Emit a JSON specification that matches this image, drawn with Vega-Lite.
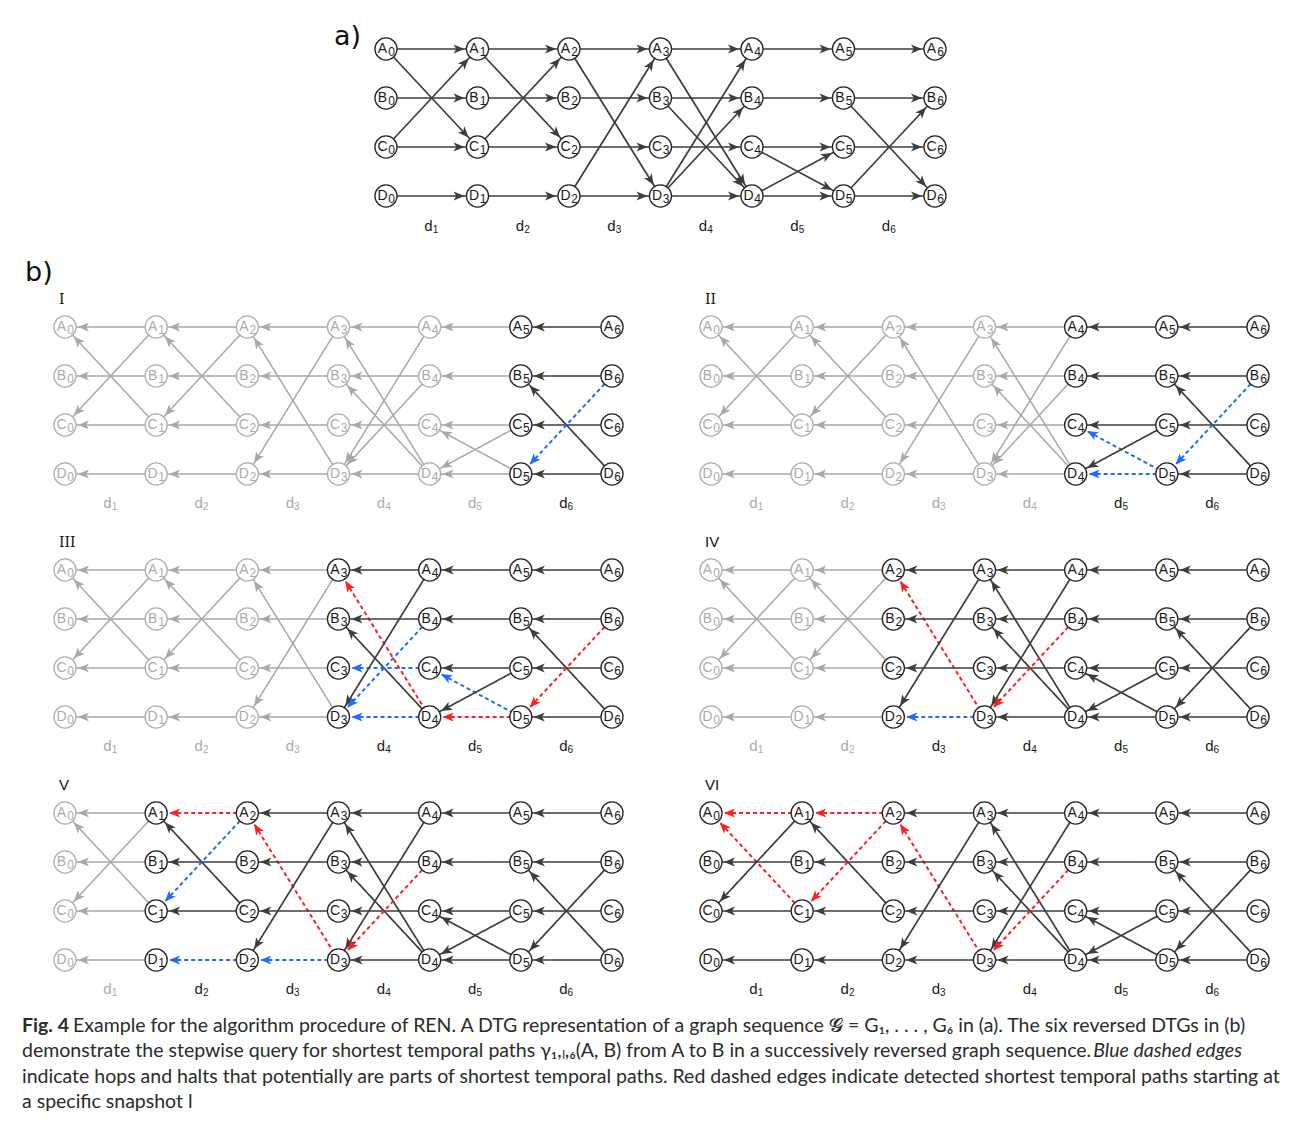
{
"$schema": "https://vega.github.io/schema/vega-lite/v6.json",
"background": "white",
"padding": {"left": 20, "top": 20, "right": 10, "bottom": 8},
"config": {"view": {"stroke": null}},
"datasets": {
"nodes": [
{"t":0,"r":"A"},{"t":0,"r":"B"},{"t":0,"r":"C"},{"t":0,"r":"D"},
{"t":1,"r":"A"},{"t":1,"r":"B"},{"t":1,"r":"C"},{"t":1,"r":"D"},
{"t":2,"r":"A"},{"t":2,"r":"B"},{"t":2,"r":"C"},{"t":2,"r":"D"},
{"t":3,"r":"A"},{"t":3,"r":"B"},{"t":3,"r":"C"},{"t":3,"r":"D"},
{"t":4,"r":"A"},{"t":4,"r":"B"},{"t":4,"r":"C"},{"t":4,"r":"D"},
{"t":5,"r":"A"},{"t":5,"r":"B"},{"t":5,"r":"C"},{"t":5,"r":"D"},
{"t":6,"r":"A"},{"t":6,"r":"B"},{"t":6,"r":"C"},{"t":6,"r":"D"}
],
"ivals": [{"t":0,"i":1},{"t":1,"i":2},{"t":2,"i":3},{"t":3,"i":4},{"t":4,"i":5},{"t":5,"i":6}],
"edges": [
{"t":0,"r":"A","t2":1,"r2":"A","I":"g","II":"g","III":"g","IV":"g","V":"g","VI":"r"},
{"t":0,"r":"A","t2":1,"r2":"C","I":"g","II":"g","III":"g","IV":"g","V":"g","VI":"r"},
{"t":0,"r":"B","t2":1,"r2":"B","I":"g","II":"g","III":"g","IV":"g","V":"g","VI":"k"},
{"t":0,"r":"C","t2":1,"r2":"A","I":"g","II":"g","III":"g","IV":"g","V":"g","VI":"k"},
{"t":0,"r":"C","t2":1,"r2":"C","I":"g","II":"g","III":"g","IV":"g","V":"g","VI":"k"},
{"t":0,"r":"D","t2":1,"r2":"D","I":"g","II":"g","III":"g","IV":"g","V":"g","VI":"k"},
{"t":1,"r":"A","t2":2,"r2":"A","I":"g","II":"g","III":"g","IV":"g","V":"r","VI":"r"},
{"t":1,"r":"A","t2":2,"r2":"C","I":"g","II":"g","III":"g","IV":"g","V":"k","VI":"k"},
{"t":1,"r":"B","t2":2,"r2":"B","I":"g","II":"g","III":"g","IV":"g","V":"k","VI":"k"},
{"t":1,"r":"C","t2":2,"r2":"A","I":"g","II":"g","III":"g","IV":"g","V":"b","VI":"r"},
{"t":1,"r":"C","t2":2,"r2":"C","I":"g","II":"g","III":"g","IV":"g","V":"k","VI":"k"},
{"t":1,"r":"D","t2":2,"r2":"D","I":"g","II":"g","III":"g","IV":"g","V":"b","VI":"k"},
{"t":2,"r":"A","t2":3,"r2":"A","I":"g","II":"g","III":"g","IV":"k","V":"k","VI":"k"},
{"t":2,"r":"A","t2":3,"r2":"D","I":"g","II":"g","III":"g","IV":"r","V":"r","VI":"r"},
{"t":2,"r":"B","t2":3,"r2":"B","I":"g","II":"g","III":"g","IV":"k","V":"k","VI":"k"},
{"t":2,"r":"C","t2":3,"r2":"C","I":"g","II":"g","III":"g","IV":"k","V":"k","VI":"k"},
{"t":2,"r":"D","t2":3,"r2":"A","I":"g","II":"g","III":"g","IV":"k","V":"k","VI":"k"},
{"t":2,"r":"D","t2":3,"r2":"D","I":"g","II":"g","III":"g","IV":"b","V":"b","VI":"k"},
{"t":3,"r":"A","t2":4,"r2":"A","I":"g","II":"g","III":"k","IV":"k","V":"k","VI":"k"},
{"t":3,"r":"A","t2":4,"r2":"D","I":"g","II":"g","III":"r","IV":"k","V":"k","VI":"k"},
{"t":3,"r":"B","t2":4,"r2":"B","I":"g","II":"g","III":"k","IV":"k","V":"k","VI":"k"},
{"t":3,"r":"B","t2":4,"r2":"D","I":"g","II":"g","III":"k","IV":"k","V":"k","VI":"k"},
{"t":3,"r":"C","t2":4,"r2":"C","I":"g","II":"g","III":"b","IV":"k","V":"k","VI":"k"},
{"t":3,"r":"D","t2":4,"r2":"A","I":"g","II":"g","III":"k","IV":"k","V":"k","VI":"k"},
{"t":3,"r":"D","t2":4,"r2":"B","I":"g","II":"g","III":"b","IV":"r","V":"r","VI":"r"},
{"t":3,"r":"D","t2":4,"r2":"D","I":"g","II":"g","III":"b","IV":"k","V":"k","VI":"k"},
{"t":4,"r":"A","t2":5,"r2":"A","I":"g","II":"k","III":"k","IV":"k","V":"k","VI":"k"},
{"t":4,"r":"B","t2":5,"r2":"B","I":"g","II":"k","III":"k","IV":"k","V":"k","VI":"k"},
{"t":4,"r":"C","t2":5,"r2":"C","I":"g","II":"k","III":"k","IV":"k","V":"k","VI":"k"},
{"t":4,"r":"C","t2":5,"r2":"D","I":"g","II":"b","III":"b","IV":"k","V":"k","VI":"k"},
{"t":4,"r":"D","t2":5,"r2":"C","I":"g","II":"k","III":"k","IV":"k","V":"k","VI":"k"},
{"t":4,"r":"D","t2":5,"r2":"D","I":"g","II":"b","III":"r","IV":"k","V":"k","VI":"k"},
{"t":5,"r":"A","t2":6,"r2":"A","I":"k","II":"k","III":"k","IV":"k","V":"k","VI":"k"},
{"t":5,"r":"B","t2":6,"r2":"B","I":"k","II":"k","III":"k","IV":"k","V":"k","VI":"k"},
{"t":5,"r":"B","t2":6,"r2":"D","I":"k","II":"k","III":"k","IV":"k","V":"k","VI":"k"},
{"t":5,"r":"C","t2":6,"r2":"C","I":"k","II":"k","III":"k","IV":"k","V":"k","VI":"k"},
{"t":5,"r":"D","t2":6,"r2":"B","I":"b","II":"b","III":"r","IV":"k","V":"k","VI":"k"},
{"t":5,"r":"D","t2":6,"r2":"D","I":"k","II":"k","III":"k","IV":"k","V":"k","VI":"k"}
],
"cap": [
{"ln":1,"seg":"b","txt":"Fig. 4"},
{"ln":1,"seg":"r1","txt":"Example for the algorithm procedure of REN. A DTG representation of a graph sequence 𝓖 = G₁, . . . , G₆ in (a). The six reversed DTGs in (b)"},
{"ln":2,"seg":"r","txt":"demonstrate the stepwise query for shortest temporal paths γ₁,ₗ,₆(A, B) from A to B in a successively reversed graph sequence."},
{"ln":2,"seg":"i","txt":"Blue dashed edges"},
{"ln":3,"seg":"r","txt":"indicate hops and halts that potentially are parts of shortest temporal paths. Red dashed edges indicate detected shortest temporal paths starting at"},
{"ln":4,"seg":"r","txt":"a specific snapshot l"}
]
},
"spacing": 2,
"vconcat": [
{
"width": 1258, "height": 218,
"encoding": {
"x": {"field": "t", "type": "quantitative", "scale": {"domain": [-4, 9.749], "nice": false, "zero": false}, "axis": null},
"y": {"field": "r", "type": "nominal", "scale": {"type": "point", "domain": ["A","B","C","D"], "padding": 0.72449, "align": 0.408451}, "axis": null}
},
"layer": [
{"data": {"name": "edges"}, "mark": {"type": "rule", "color": "#3d3d3d", "strokeWidth": 1.7}, "encoding": {"x2": {"field": "t2"}, "y2": {"field": "r2"}}},
{"data": {"name": "edges"}, "transform": [{"calculate": "datum.r + datum.r2", "as": "k"}],
 "mark": {"type": "point", "shape": "M-0.54,0L-1,-0.19L-0.88,0L-1,0.19Z", "filled": true, "size": 2304, "opacity": 1, "strokeWidth": 0, "color": "#3d3d3d"},
 "encoding": {"x": {"field": "t2", "type": "quantitative"}, "y": {"field": "r2", "type": "nominal"},
  "angle": {"field": "k", "type": "nominal", "scale": {"type": "ordinal", "domain": ["AA","AB","AC","AD","BA","BB","BC","BD","CA","CB","CC","CD","DA","DB","DC","DD"], "range": [0,28.2,47.0,58.1,-28.2,0,28.2,47.0,-47.0,-28.2,0,28.2,-58.1,-47.0,-28.2,0]}, "legend": null}}},
{"data": {"name": "nodes"}, "mark": {"type": "point", "shape": "circle", "size": 490, "filled": true, "fill": "white", "opacity": 1, "strokeWidth": 1.3, "stroke": "#262626"}},
{"data": {"name": "nodes"}, "mark": {"type": "text", "font": "Liberation Sans", "fontSize": 14, "dx": -3.5, "baseline": "middle", "align": "center", "color": "#1a1a1a"}, "encoding": {"text": {"field": "r"}}},
{"data": {"name": "nodes"}, "mark": {"type": "text", "font": "Liberation Sans", "fontSize": 12, "dx": 5.5, "dy": 3, "baseline": "middle", "align": "center", "color": "#1a1a1a"}, "encoding": {"text": {"field": "t"}}},
{"data": {"name": "ivals"}, "mark": {"type": "text", "text": "d", "font": "Liberation Sans", "fontSize": 15, "dx": 42.5, "dy": 30, "baseline": "middle", "align": "center", "color": "#1a1a1a"}, "encoding": {"y": {"datum": "D", "type": "nominal"}}},
{"data": {"name": "ivals"}, "mark": {"type": "text", "font": "Liberation Sans", "fontSize": 10, "dx": 49.5, "dy": 34, "baseline": "middle", "align": "center", "color": "#1a1a1a"}, "encoding": {"y": {"datum": "D", "type": "nominal"}, "text": {"field": "i"}}},
{"data": {"name": "nodes"}, "transform": [{"filter": "datum.t == 0 && datum.r == 'A'"}], "mark": {"type": "text", "text": "a)", "font": "DejaVu Sans", "fontSize": 27, "align": "left", "baseline": "alphabetic", "dx": -52, "dy": -4, "color": "#111111"}}
]
},
{
"width": 100, "height": 47,
"data": {"values": [{"lbl": "b)"}]},
"mark": {"type": "text", "font": "DejaVu Sans", "fontSize": 27, "align": "left", "baseline": "alphabetic", "color": "#111111"},
"encoding": {"x": {"value": 5}, "y": {"value": 41}, "text": {"field": "lbl"}}
},
{
"columns": 2,
"spacing": {"row": 18, "column": 34},
"concat": [
{
"width": 612, "height": 225,
"encoding": {
"x": {"field": "t", "type": "quantitative", "scale": {"domain": [-0.4936, 6.2194], "nice": false, "zero": false}, "axis": null},
"y": {"field": "r", "type": "nominal", "scale": {"type": "point", "domain": ["A","B","C","D"], "padding": 0.795918, "align": 0.487179}, "axis": null}
},
"layer": [
{"data": {"name": "edges"}, "mark": {"type": "rule"}, "encoding": {"x2": {"field": "t2"}, "y2": {"field": "r2"},
 "color": {"field": "I", "type": "nominal", "scale": {"domain": ["g","k","b","r"], "range": ["#a8a8a8","#3d3d3d","#1a6dff","#ff1f1f"]}, "legend": null},
 "strokeDash": {"field": "I", "type": "nominal", "scale": {"domain": ["g","k","b","r"], "range": [[1,0],[1,0],[4,3],[4,3]]}, "legend": null},
 "strokeWidth": {"field": "I", "type": "nominal", "scale": {"type": "ordinal", "domain": ["g","k","b","r"], "range": [1.5,1.7,2,2]}, "legend": null}}},
{"data": {"name": "edges"}, "transform": [{"calculate": "datum.r + datum.r2", "as": "k"}],
 "mark": {"type": "point", "shape": "M0.54,0L1,-0.19L0.88,0L1,0.19Z", "filled": true, "size": 2304, "opacity": 1, "strokeWidth": 0},
 "encoding": {"color": {"field": "I", "type": "nominal", "scale": {"domain": ["g","k","b","r"], "range": ["#a8a8a8","#3d3d3d","#1a6dff","#ff1f1f"]}, "legend": null},
  "angle": {"field": "k", "type": "nominal", "scale": {"type": "ordinal", "domain": ["AA","AB","AC","AD","BA","BB","BC","BD","CA","CB","CC","CD","DA","DB","DC","DD"], "range": [0,28.3,47.1,58.2,-28.3,0,28.3,47.1,-47.1,-28.3,0,28.3,-58.2,-47.1,-28.3,0]}, "legend": null}}},
{"data": {"name": "nodes"}, "mark": {"type": "point", "shape": "circle", "size": 490, "filled": true, "fill": "white", "opacity": 1, "strokeWidth": 1.3}, "encoding": {"stroke": {"condition": {"test": "datum.t >= 5", "value": "#262626"}, "value": "#b0b0b0"}}},
{"data": {"name": "nodes"}, "mark": {"type": "text", "font": "Liberation Sans", "fontSize": 14, "dx": -3.5, "baseline": "middle", "align": "center"}, "encoding": {"text": {"field": "r"}, "color": {"condition": {"test": "datum.t >= 5", "value": "#1a1a1a"}, "value": "#ababab"}}},
{"data": {"name": "nodes"}, "mark": {"type": "text", "font": "Liberation Sans", "fontSize": 12, "dx": 5.5, "dy": 3, "baseline": "middle", "align": "center"}, "encoding": {"text": {"field": "t"}, "color": {"condition": {"test": "datum.t >= 5", "value": "#1a1a1a"}, "value": "#ababab"}}},
{"data": {"name": "ivals"}, "mark": {"type": "text", "text": "d", "font": "Liberation Sans", "fontSize": 15, "dx": 42.5, "dy": 29, "baseline": "middle", "align": "center"}, "encoding": {"y": {"datum": "D", "type": "nominal"}, "color": {"condition": {"test": "datum.t >= 5", "value": "#1a1a1a"}, "value": "#ababab"}}},
{"data": {"name": "ivals"}, "mark": {"type": "text", "font": "Liberation Sans", "fontSize": 10, "dx": 49.5, "dy": 33, "baseline": "middle", "align": "center"}, "encoding": {"y": {"datum": "D", "type": "nominal"}, "text": {"field": "i"}, "color": {"condition": {"test": "datum.t >= 5", "value": "#1a1a1a"}, "value": "#ababab"}}},
{"data": {"name": "nodes"}, "transform": [{"filter": "datum.t == 0 && datum.r == 'A'"}], "mark": {"type": "text", "text": "I", "font": "DejaVu Serif", "fontSize": 14, "align": "left", "baseline": "alphabetic", "dx": -6, "dy": -23, "color": "#111111"}}
]
},
{
"width": 612, "height": 225,
"encoding": {
"x": {"field": "t", "type": "quantitative", "scale": {"domain": [-0.4936, 6.2194], "nice": false, "zero": false}, "axis": null},
"y": {"field": "r", "type": "nominal", "scale": {"type": "point", "domain": ["A","B","C","D"], "padding": 0.795918, "align": 0.487179}, "axis": null}
},
"layer": [
{"data": {"name": "edges"}, "mark": {"type": "rule"}, "encoding": {"x2": {"field": "t2"}, "y2": {"field": "r2"},
 "color": {"field": "II", "type": "nominal", "scale": {"domain": ["g","k","b","r"], "range": ["#a8a8a8","#3d3d3d","#1a6dff","#ff1f1f"]}, "legend": null},
 "strokeDash": {"field": "II", "type": "nominal", "scale": {"domain": ["g","k","b","r"], "range": [[1,0],[1,0],[4,3],[4,3]]}, "legend": null},
 "strokeWidth": {"field": "II", "type": "nominal", "scale": {"type": "ordinal", "domain": ["g","k","b","r"], "range": [1.5,1.7,2,2]}, "legend": null}}},
{"data": {"name": "edges"}, "transform": [{"calculate": "datum.r + datum.r2", "as": "k"}],
 "mark": {"type": "point", "shape": "M0.54,0L1,-0.19L0.88,0L1,0.19Z", "filled": true, "size": 2304, "opacity": 1, "strokeWidth": 0},
 "encoding": {"color": {"field": "II", "type": "nominal", "scale": {"domain": ["g","k","b","r"], "range": ["#a8a8a8","#3d3d3d","#1a6dff","#ff1f1f"]}, "legend": null},
  "angle": {"field": "k", "type": "nominal", "scale": {"type": "ordinal", "domain": ["AA","AB","AC","AD","BA","BB","BC","BD","CA","CB","CC","CD","DA","DB","DC","DD"], "range": [0,28.3,47.1,58.2,-28.3,0,28.3,47.1,-47.1,-28.3,0,28.3,-58.2,-47.1,-28.3,0]}, "legend": null}}},
{"data": {"name": "nodes"}, "mark": {"type": "point", "shape": "circle", "size": 490, "filled": true, "fill": "white", "opacity": 1, "strokeWidth": 1.3}, "encoding": {"stroke": {"condition": {"test": "datum.t >= 4", "value": "#262626"}, "value": "#b0b0b0"}}},
{"data": {"name": "nodes"}, "mark": {"type": "text", "font": "Liberation Sans", "fontSize": 14, "dx": -3.5, "baseline": "middle", "align": "center"}, "encoding": {"text": {"field": "r"}, "color": {"condition": {"test": "datum.t >= 4", "value": "#1a1a1a"}, "value": "#ababab"}}},
{"data": {"name": "nodes"}, "mark": {"type": "text", "font": "Liberation Sans", "fontSize": 12, "dx": 5.5, "dy": 3, "baseline": "middle", "align": "center"}, "encoding": {"text": {"field": "t"}, "color": {"condition": {"test": "datum.t >= 4", "value": "#1a1a1a"}, "value": "#ababab"}}},
{"data": {"name": "ivals"}, "mark": {"type": "text", "text": "d", "font": "Liberation Sans", "fontSize": 15, "dx": 42.5, "dy": 29, "baseline": "middle", "align": "center"}, "encoding": {"y": {"datum": "D", "type": "nominal"}, "color": {"condition": {"test": "datum.t >= 4", "value": "#1a1a1a"}, "value": "#ababab"}}},
{"data": {"name": "ivals"}, "mark": {"type": "text", "font": "Liberation Sans", "fontSize": 10, "dx": 49.5, "dy": 33, "baseline": "middle", "align": "center"}, "encoding": {"y": {"datum": "D", "type": "nominal"}, "text": {"field": "i"}, "color": {"condition": {"test": "datum.t >= 4", "value": "#1a1a1a"}, "value": "#ababab"}}},
{"data": {"name": "nodes"}, "transform": [{"filter": "datum.t == 0 && datum.r == 'A'"}], "mark": {"type": "text", "text": "II", "font": "DejaVu Serif", "fontSize": 14, "align": "left", "baseline": "alphabetic", "dx": -6, "dy": -23, "color": "#111111"}}
]
},
{
"width": 612, "height": 225,
"encoding": {
"x": {"field": "t", "type": "quantitative", "scale": {"domain": [-0.4936, 6.2194], "nice": false, "zero": false}, "axis": null},
"y": {"field": "r", "type": "nominal", "scale": {"type": "point", "domain": ["A","B","C","D"], "padding": 0.795918, "align": 0.487179}, "axis": null}
},
"layer": [
{"data": {"name": "edges"}, "mark": {"type": "rule"}, "encoding": {"x2": {"field": "t2"}, "y2": {"field": "r2"},
 "color": {"field": "III", "type": "nominal", "scale": {"domain": ["g","k","b","r"], "range": ["#a8a8a8","#3d3d3d","#1a6dff","#ff1f1f"]}, "legend": null},
 "strokeDash": {"field": "III", "type": "nominal", "scale": {"domain": ["g","k","b","r"], "range": [[1,0],[1,0],[4,3],[4,3]]}, "legend": null},
 "strokeWidth": {"field": "III", "type": "nominal", "scale": {"type": "ordinal", "domain": ["g","k","b","r"], "range": [1.5,1.7,2,2]}, "legend": null}}},
{"data": {"name": "edges"}, "transform": [{"calculate": "datum.r + datum.r2", "as": "k"}],
 "mark": {"type": "point", "shape": "M0.54,0L1,-0.19L0.88,0L1,0.19Z", "filled": true, "size": 2304, "opacity": 1, "strokeWidth": 0},
 "encoding": {"color": {"field": "III", "type": "nominal", "scale": {"domain": ["g","k","b","r"], "range": ["#a8a8a8","#3d3d3d","#1a6dff","#ff1f1f"]}, "legend": null},
  "angle": {"field": "k", "type": "nominal", "scale": {"type": "ordinal", "domain": ["AA","AB","AC","AD","BA","BB","BC","BD","CA","CB","CC","CD","DA","DB","DC","DD"], "range": [0,28.3,47.1,58.2,-28.3,0,28.3,47.1,-47.1,-28.3,0,28.3,-58.2,-47.1,-28.3,0]}, "legend": null}}},
{"data": {"name": "nodes"}, "mark": {"type": "point", "shape": "circle", "size": 490, "filled": true, "fill": "white", "opacity": 1, "strokeWidth": 1.3}, "encoding": {"stroke": {"condition": {"test": "datum.t >= 3", "value": "#262626"}, "value": "#b0b0b0"}}},
{"data": {"name": "nodes"}, "mark": {"type": "text", "font": "Liberation Sans", "fontSize": 14, "dx": -3.5, "baseline": "middle", "align": "center"}, "encoding": {"text": {"field": "r"}, "color": {"condition": {"test": "datum.t >= 3", "value": "#1a1a1a"}, "value": "#ababab"}}},
{"data": {"name": "nodes"}, "mark": {"type": "text", "font": "Liberation Sans", "fontSize": 12, "dx": 5.5, "dy": 3, "baseline": "middle", "align": "center"}, "encoding": {"text": {"field": "t"}, "color": {"condition": {"test": "datum.t >= 3", "value": "#1a1a1a"}, "value": "#ababab"}}},
{"data": {"name": "ivals"}, "mark": {"type": "text", "text": "d", "font": "Liberation Sans", "fontSize": 15, "dx": 42.5, "dy": 29, "baseline": "middle", "align": "center"}, "encoding": {"y": {"datum": "D", "type": "nominal"}, "color": {"condition": {"test": "datum.t >= 3", "value": "#1a1a1a"}, "value": "#ababab"}}},
{"data": {"name": "ivals"}, "mark": {"type": "text", "font": "Liberation Sans", "fontSize": 10, "dx": 49.5, "dy": 33, "baseline": "middle", "align": "center"}, "encoding": {"y": {"datum": "D", "type": "nominal"}, "text": {"field": "i"}, "color": {"condition": {"test": "datum.t >= 3", "value": "#1a1a1a"}, "value": "#ababab"}}},
{"data": {"name": "nodes"}, "transform": [{"filter": "datum.t == 0 && datum.r == 'A'"}], "mark": {"type": "text", "text": "III", "font": "DejaVu Serif", "fontSize": 14, "align": "left", "baseline": "alphabetic", "dx": -6, "dy": -23, "color": "#111111"}}
]
},
{
"width": 612, "height": 225,
"encoding": {
"x": {"field": "t", "type": "quantitative", "scale": {"domain": [-0.4936, 6.2194], "nice": false, "zero": false}, "axis": null},
"y": {"field": "r", "type": "nominal", "scale": {"type": "point", "domain": ["A","B","C","D"], "padding": 0.795918, "align": 0.487179}, "axis": null}
},
"layer": [
{"data": {"name": "edges"}, "mark": {"type": "rule"}, "encoding": {"x2": {"field": "t2"}, "y2": {"field": "r2"},
 "color": {"field": "IV", "type": "nominal", "scale": {"domain": ["g","k","b","r"], "range": ["#a8a8a8","#3d3d3d","#1a6dff","#ff1f1f"]}, "legend": null},
 "strokeDash": {"field": "IV", "type": "nominal", "scale": {"domain": ["g","k","b","r"], "range": [[1,0],[1,0],[4,3],[4,3]]}, "legend": null},
 "strokeWidth": {"field": "IV", "type": "nominal", "scale": {"type": "ordinal", "domain": ["g","k","b","r"], "range": [1.5,1.7,2,2]}, "legend": null}}},
{"data": {"name": "edges"}, "transform": [{"calculate": "datum.r + datum.r2", "as": "k"}],
 "mark": {"type": "point", "shape": "M0.54,0L1,-0.19L0.88,0L1,0.19Z", "filled": true, "size": 2304, "opacity": 1, "strokeWidth": 0},
 "encoding": {"color": {"field": "IV", "type": "nominal", "scale": {"domain": ["g","k","b","r"], "range": ["#a8a8a8","#3d3d3d","#1a6dff","#ff1f1f"]}, "legend": null},
  "angle": {"field": "k", "type": "nominal", "scale": {"type": "ordinal", "domain": ["AA","AB","AC","AD","BA","BB","BC","BD","CA","CB","CC","CD","DA","DB","DC","DD"], "range": [0,28.3,47.1,58.2,-28.3,0,28.3,47.1,-47.1,-28.3,0,28.3,-58.2,-47.1,-28.3,0]}, "legend": null}}},
{"data": {"name": "nodes"}, "mark": {"type": "point", "shape": "circle", "size": 490, "filled": true, "fill": "white", "opacity": 1, "strokeWidth": 1.3}, "encoding": {"stroke": {"condition": {"test": "datum.t >= 2", "value": "#262626"}, "value": "#b0b0b0"}}},
{"data": {"name": "nodes"}, "mark": {"type": "text", "font": "Liberation Sans", "fontSize": 14, "dx": -3.5, "baseline": "middle", "align": "center"}, "encoding": {"text": {"field": "r"}, "color": {"condition": {"test": "datum.t >= 2", "value": "#1a1a1a"}, "value": "#ababab"}}},
{"data": {"name": "nodes"}, "mark": {"type": "text", "font": "Liberation Sans", "fontSize": 12, "dx": 5.5, "dy": 3, "baseline": "middle", "align": "center"}, "encoding": {"text": {"field": "t"}, "color": {"condition": {"test": "datum.t >= 2", "value": "#1a1a1a"}, "value": "#ababab"}}},
{"data": {"name": "ivals"}, "mark": {"type": "text", "text": "d", "font": "Liberation Sans", "fontSize": 15, "dx": 42.5, "dy": 29, "baseline": "middle", "align": "center"}, "encoding": {"y": {"datum": "D", "type": "nominal"}, "color": {"condition": {"test": "datum.t >= 2", "value": "#1a1a1a"}, "value": "#ababab"}}},
{"data": {"name": "ivals"}, "mark": {"type": "text", "font": "Liberation Sans", "fontSize": 10, "dx": 49.5, "dy": 33, "baseline": "middle", "align": "center"}, "encoding": {"y": {"datum": "D", "type": "nominal"}, "text": {"field": "i"}, "color": {"condition": {"test": "datum.t >= 2", "value": "#1a1a1a"}, "value": "#ababab"}}},
{"data": {"name": "nodes"}, "transform": [{"filter": "datum.t == 0 && datum.r == 'A'"}], "mark": {"type": "text", "text": "IV", "font": "Liberation Sans", "fontSize": 15, "align": "left", "baseline": "alphabetic", "dx": -6, "dy": -23, "color": "#111111"}}
]
},
{
"width": 612, "height": 225,
"encoding": {
"x": {"field": "t", "type": "quantitative", "scale": {"domain": [-0.4936, 6.2194], "nice": false, "zero": false}, "axis": null},
"y": {"field": "r", "type": "nominal", "scale": {"type": "point", "domain": ["A","B","C","D"], "padding": 0.795918, "align": 0.487179}, "axis": null}
},
"layer": [
{"data": {"name": "edges"}, "mark": {"type": "rule"}, "encoding": {"x2": {"field": "t2"}, "y2": {"field": "r2"},
 "color": {"field": "V", "type": "nominal", "scale": {"domain": ["g","k","b","r"], "range": ["#a8a8a8","#3d3d3d","#1a6dff","#ff1f1f"]}, "legend": null},
 "strokeDash": {"field": "V", "type": "nominal", "scale": {"domain": ["g","k","b","r"], "range": [[1,0],[1,0],[4,3],[4,3]]}, "legend": null},
 "strokeWidth": {"field": "V", "type": "nominal", "scale": {"type": "ordinal", "domain": ["g","k","b","r"], "range": [1.5,1.7,2,2]}, "legend": null}}},
{"data": {"name": "edges"}, "transform": [{"calculate": "datum.r + datum.r2", "as": "k"}],
 "mark": {"type": "point", "shape": "M0.54,0L1,-0.19L0.88,0L1,0.19Z", "filled": true, "size": 2304, "opacity": 1, "strokeWidth": 0},
 "encoding": {"color": {"field": "V", "type": "nominal", "scale": {"domain": ["g","k","b","r"], "range": ["#a8a8a8","#3d3d3d","#1a6dff","#ff1f1f"]}, "legend": null},
  "angle": {"field": "k", "type": "nominal", "scale": {"type": "ordinal", "domain": ["AA","AB","AC","AD","BA","BB","BC","BD","CA","CB","CC","CD","DA","DB","DC","DD"], "range": [0,28.3,47.1,58.2,-28.3,0,28.3,47.1,-47.1,-28.3,0,28.3,-58.2,-47.1,-28.3,0]}, "legend": null}}},
{"data": {"name": "nodes"}, "mark": {"type": "point", "shape": "circle", "size": 490, "filled": true, "fill": "white", "opacity": 1, "strokeWidth": 1.3}, "encoding": {"stroke": {"condition": {"test": "datum.t >= 1", "value": "#262626"}, "value": "#b0b0b0"}}},
{"data": {"name": "nodes"}, "mark": {"type": "text", "font": "Liberation Sans", "fontSize": 14, "dx": -3.5, "baseline": "middle", "align": "center"}, "encoding": {"text": {"field": "r"}, "color": {"condition": {"test": "datum.t >= 1", "value": "#1a1a1a"}, "value": "#ababab"}}},
{"data": {"name": "nodes"}, "mark": {"type": "text", "font": "Liberation Sans", "fontSize": 12, "dx": 5.5, "dy": 3, "baseline": "middle", "align": "center"}, "encoding": {"text": {"field": "t"}, "color": {"condition": {"test": "datum.t >= 1", "value": "#1a1a1a"}, "value": "#ababab"}}},
{"data": {"name": "ivals"}, "mark": {"type": "text", "text": "d", "font": "Liberation Sans", "fontSize": 15, "dx": 42.5, "dy": 29, "baseline": "middle", "align": "center"}, "encoding": {"y": {"datum": "D", "type": "nominal"}, "color": {"condition": {"test": "datum.t >= 1", "value": "#1a1a1a"}, "value": "#ababab"}}},
{"data": {"name": "ivals"}, "mark": {"type": "text", "font": "Liberation Sans", "fontSize": 10, "dx": 49.5, "dy": 33, "baseline": "middle", "align": "center"}, "encoding": {"y": {"datum": "D", "type": "nominal"}, "text": {"field": "i"}, "color": {"condition": {"test": "datum.t >= 1", "value": "#1a1a1a"}, "value": "#ababab"}}},
{"data": {"name": "nodes"}, "transform": [{"filter": "datum.t == 0 && datum.r == 'A'"}], "mark": {"type": "text", "text": "V", "font": "Liberation Sans", "fontSize": 15, "align": "left", "baseline": "alphabetic", "dx": -6, "dy": -23, "color": "#111111"}}
]
},
{
"width": 612, "height": 225,
"encoding": {
"x": {"field": "t", "type": "quantitative", "scale": {"domain": [-0.4936, 6.2194], "nice": false, "zero": false}, "axis": null},
"y": {"field": "r", "type": "nominal", "scale": {"type": "point", "domain": ["A","B","C","D"], "padding": 0.795918, "align": 0.487179}, "axis": null}
},
"layer": [
{"data": {"name": "edges"}, "mark": {"type": "rule"}, "encoding": {"x2": {"field": "t2"}, "y2": {"field": "r2"},
 "color": {"field": "VI", "type": "nominal", "scale": {"domain": ["g","k","b","r"], "range": ["#a8a8a8","#3d3d3d","#1a6dff","#ff1f1f"]}, "legend": null},
 "strokeDash": {"field": "VI", "type": "nominal", "scale": {"domain": ["g","k","b","r"], "range": [[1,0],[1,0],[4,3],[4,3]]}, "legend": null},
 "strokeWidth": {"field": "VI", "type": "nominal", "scale": {"type": "ordinal", "domain": ["g","k","b","r"], "range": [1.5,1.7,2,2]}, "legend": null}}},
{"data": {"name": "edges"}, "transform": [{"calculate": "datum.r + datum.r2", "as": "k"}],
 "mark": {"type": "point", "shape": "M0.54,0L1,-0.19L0.88,0L1,0.19Z", "filled": true, "size": 2304, "opacity": 1, "strokeWidth": 0},
 "encoding": {"color": {"field": "VI", "type": "nominal", "scale": {"domain": ["g","k","b","r"], "range": ["#a8a8a8","#3d3d3d","#1a6dff","#ff1f1f"]}, "legend": null},
  "angle": {"field": "k", "type": "nominal", "scale": {"type": "ordinal", "domain": ["AA","AB","AC","AD","BA","BB","BC","BD","CA","CB","CC","CD","DA","DB","DC","DD"], "range": [0,28.3,47.1,58.2,-28.3,0,28.3,47.1,-47.1,-28.3,0,28.3,-58.2,-47.1,-28.3,0]}, "legend": null}}},
{"data": {"name": "nodes"}, "mark": {"type": "point", "shape": "circle", "size": 490, "filled": true, "fill": "white", "opacity": 1, "strokeWidth": 1.3, "stroke": "#262626"}},
{"data": {"name": "nodes"}, "mark": {"type": "text", "font": "Liberation Sans", "fontSize": 14, "dx": -3.5, "baseline": "middle", "align": "center", "color": "#1a1a1a"}, "encoding": {"text": {"field": "r"}}},
{"data": {"name": "nodes"}, "mark": {"type": "text", "font": "Liberation Sans", "fontSize": 12, "dx": 5.5, "dy": 3, "baseline": "middle", "align": "center", "color": "#1a1a1a"}, "encoding": {"text": {"field": "t"}}},
{"data": {"name": "ivals"}, "mark": {"type": "text", "text": "d", "font": "Liberation Sans", "fontSize": 15, "dx": 42.5, "dy": 29, "baseline": "middle", "align": "center", "color": "#1a1a1a"}, "encoding": {"y": {"datum": "D", "type": "nominal"}}},
{"data": {"name": "ivals"}, "mark": {"type": "text", "font": "Liberation Sans", "fontSize": 10, "dx": 49.5, "dy": 33, "baseline": "middle", "align": "center", "color": "#1a1a1a"}, "encoding": {"y": {"datum": "D", "type": "nominal"}, "text": {"field": "i"}}},
{"data": {"name": "nodes"}, "transform": [{"filter": "datum.t == 0 && datum.r == 'A'"}], "mark": {"type": "text", "text": "VI", "font": "Liberation Sans", "fontSize": 15, "align": "left", "baseline": "alphabetic", "dx": -6, "dy": -23, "color": "#111111"}}
]
}
]
},
{
"width": 1258, "height": 112.5,
"data": {"name": "cap"},
"encoding": {"y": {"field": "ln", "type": "ordinal", "scale": {"type": "point", "domain": [1,2,3,4], "padding": 0.70588, "align": 0.83333}, "axis": null}},
"layer": [
{"transform": [{"filter": "datum.seg == 'b'"}], "mark": {"type": "text", "align": "left", "baseline": "alphabetic", "font": "Lato", "fontSize": 19.5, "fontWeight": "bold", "color": "#2b2b2b"}, "encoding": {"x": {"value": 2}, "text": {"field": "txt"}}},
{"transform": [{"filter": "datum.seg == 'r1'"}], "mark": {"type": "text", "align": "left", "baseline": "alphabetic", "font": "Lato", "fontSize": 19.5, "color": "#2b2b2b"}, "encoding": {"x": {"value": 53}, "text": {"field": "txt"}}},
{"transform": [{"filter": "datum.seg == 'r'"}], "mark": {"type": "text", "align": "left", "baseline": "alphabetic", "font": "Lato", "fontSize": 19.5, "color": "#2b2b2b"}, "encoding": {"x": {"value": 2}, "text": {"field": "txt"}}},
{"transform": [{"filter": "datum.seg == 'i'"}], "mark": {"type": "text", "align": "right", "baseline": "alphabetic", "font": "Lato", "fontSize": 19.5, "fontStyle": "italic", "color": "#2b2b2b"}, "encoding": {"x": {"value": 1222}, "text": {"field": "txt"}}}
]
}
]
}
